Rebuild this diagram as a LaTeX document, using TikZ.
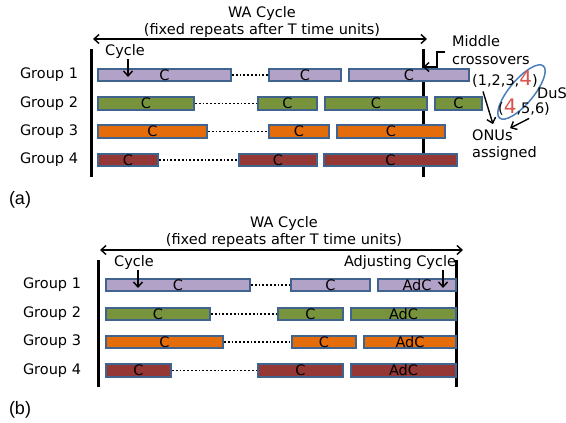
\documentclass[tikz,border=0pt]{standalone}
\usepackage{fontspec}
\setmainfont{DejaVu Sans}
\newfontfamily\panelfont{Liberation Sans}
\usepackage{tikz}
\usetikzlibrary{arrows.meta}
\usetikzlibrary{shapes.geometric}
\usepackage{xcolor}
\definecolor{grpone}{HTML}{B3A2C7}
\definecolor{grptwo}{HTML}{77933C}
\definecolor{grpthree}{HTML}{E46C0A}
\definecolor{grpfour}{HTML}{953735}
\definecolor{barline}{HTML}{41648F}
\definecolor{dusline}{HTML}{4A7EBB}
\definecolor{onured}{HTML}{D9534F}
\newcommand{\txtsize}{\fontsize{14.5pt}{17.5pt}\selectfont}
\newcommand{\redfour}{{\color{onured}\fontsize{20pt}{20pt}\selectfont 4}}

\begin{document}
\begin{tikzpicture}[x=1pt, y=-1pt, >={Straight Barb[length=5pt,width=9pt]},
    every node/.style={font=\txtsize, inner sep=1pt},
    bar/.style={draw=barline, line width=1.6pt, minimum height=12.5pt, inner sep=0pt},
    barone/.style={bar, fill=grpone},
    bartwo/.style={bar, fill=grptwo},
    barthree/.style={bar, fill=grpthree},
    barfour/.style={bar, fill=grpfour},
    gap/.style={line width=1.7pt, dash pattern=on 1.7pt off 2.1pt},
    edge/.style={line width=3pt},
    arr/.style={->, line width=1.4pt},
    panel/.style={font=\panelfont\fontsize{18pt}{20pt}\selectfont}]
    \useasboundingbox (0,0) rectangle (566,423);

    % ---- (a) ----
    \node[align=center] (waa) at (262,22) {WA Cycle\\(fixed repeats after T time units)};
    \coordinate (wal) at (93,39);
    \coordinate (war) at (427,39);
    \draw[<->, line width=1.4pt] (wal) -- (war);
    \coordinate (lta) at (91,49);
    \coordinate (lba) at (91,177);
    \coordinate (rta) at (423,49);
    \coordinate (rba) at (423,177);
    \draw[edge] (lta) -- (lba);
    \draw[edge] (rta) -- (rba);

    \node (ga1) at (49,75) {Group 1};
    \node (ga2) at (49,103.5) {Group 2};
    \node (ga3) at (49,131.5) {Group 3};
    \node (ga4) at (49,160) {Group 4};

    \node[barone, minimum width=133.5pt] (a11) at (164.5,75) {C};
    \node[barone, minimum width=72.5pt] (a12) at (305,75) {C};
    \node[barone, minimum width=120.5pt] (a13) at (409,75) {C};
    \node[bartwo, minimum width=96.5pt] (a21) at (146,103.5) {C};
    \node[bartwo, minimum width=59.5pt] (a22) at (287.5,103.5) {C};
    \node[bartwo, minimum width=102.5pt] (a23) at (376,103.5) {C};
    \node[bartwo, minimum width=47.5pt] (a24) at (458.5,103.5) {C};
    \node[barthree, minimum width=109.5pt] (a31) at (152.5,131.5) {C};
    \node[barthree, minimum width=60.5pt] (a32) at (299,131.5) {C};
    \node[barthree, minimum width=108.5pt] (a33) at (391,131.5) {C};
    \node[barfour, minimum width=60.5pt] (a41) at (128,160) {C};
    \node[barfour, minimum width=78.5pt] (a42) at (278,160) {C};
    \node[barfour, minimum width=133.5pt] (a43) at (390.5,160) {C};
    \draw[gap] (a11) -- (a12);
    \draw[gap] (a21) -- (a22);
    \draw[gap] (a31) -- (a32);
    \draw[gap] (a41) -- (a42);

    \node (cyca) at (125,51) {Cycle};
    \coordinate (cyctipa) at (128,77);
    \draw[arr] (cyca.south -| cyctipa) -- (cyctipa);

    \node[anchor=west, align=left] (mid) at (451,50) {Middle\\crossovers};
    \coordinate (elb) at (445,52);
    \coordinate (crossa) at (423,67);
    \draw[arr] (elb) -- (437,52) -- (437,67) -- (crossa);

    \node[ellipse, draw=dusline, line width=1.5pt, minimum width=68pt, minimum height=24pt, rotate=50] (dus) at (521.5,92) {};
    \node[anchor=west] (pone) at (471,79) {(1,2,3,\redfour)};
    \node[anchor=west] (ptwo) at (497,107) {(\redfour,5,6)};
    \node[anchor=west] (dusl) at (536,93) {DuS};
    \node[anchor=west, align=left] (onu) at (471,145) {ONUs\\assigned};
    \draw[arr] ([xshift=12pt,yshift=-3pt]pone.south west) -- ([xshift=22pt,yshift=4pt]onu.north west);
    \draw[arr] ([xshift=-22pt,yshift=-2pt]ptwo.south east) -- ([xshift=39pt,yshift=0pt]onu.north west);

    \node[panel] (pa) at (20,200) {(a)};

    % ---- (b) ----
    \node[align=center] (wab) at (284,232) {WA Cycle\\(fixed repeats after T time units)};
    \coordinate (wbl) at (100,250);
    \coordinate (wbr) at (463,250);
    \draw[<->, line width=1.4pt] (wbl) -- (wbr);
    \coordinate (ltb) at (98,260);
    \coordinate (lbb) at (98,387);
    \coordinate (rtb) at (456,260);
    \coordinate (rbb) at (456,387);
    \draw[edge] (ltb) -- (lbb);
    \draw[edge] (rtb) -- (rbb);

    \node (gb1) at (52,285) {Group 1};
    \node (gb2) at (52,314) {Group 2};
    \node (gb3) at (52,342) {Group 3};
    \node (gb4) at (52,370.5) {Group 4};

    \node[barone, minimum width=144.5pt] (b11) at (178,285) {C};
    \node[barone, minimum width=79.5pt] (b12) at (330.5,285) {C};
    \node[barone, minimum width=78.5pt] (b13) at (417,285) {AdC};
    \node[bartwo, minimum width=104.5pt] (b21) at (158,314) {C};
    \node[bartwo, minimum width=65.5pt] (b22) at (310.5,314) {C};
    \node[bartwo, minimum width=105.5pt] (b23) at (403.5,314) {AdC};
    \node[barthree, minimum width=117.5pt] (b31) at (164.5,342) {C};
    \node[barthree, minimum width=64.5pt] (b32) at (324,342) {C};
    \node[barthree, minimum width=92.5pt] (b33) at (410,342) {AdC};
    \node[barfour, minimum width=65.5pt] (b41) at (138.5,370.5) {C};
    \node[barfour, minimum width=85.5pt] (b42) at (300.5,370.5) {C};
    \node[barfour, minimum width=105.5pt] (b43) at (403.5,370.5) {AdC};
    \draw[gap] (b11) -- (b12);
    \draw[gap] (b21) -- (b22);
    \draw[gap] (b31) -- (b32);
    \draw[gap] (b41) -- (b42);

    \node (cycb) at (134,262) {Cycle};
    \coordinate (cyctipb) at (138,288);
    \draw[arr] (cycb.south -| cyctipb) -- (cyctipb);
    \node (adj) at (400,262) {Adjusting Cycle};
    \coordinate (adjtip) at (443,288);
    \draw[arr] (adj.south -| adjtip) -- (adjtip);

    \node[panel] (pb) at (20,410) {(b)};
\end{tikzpicture}
\end{document}
